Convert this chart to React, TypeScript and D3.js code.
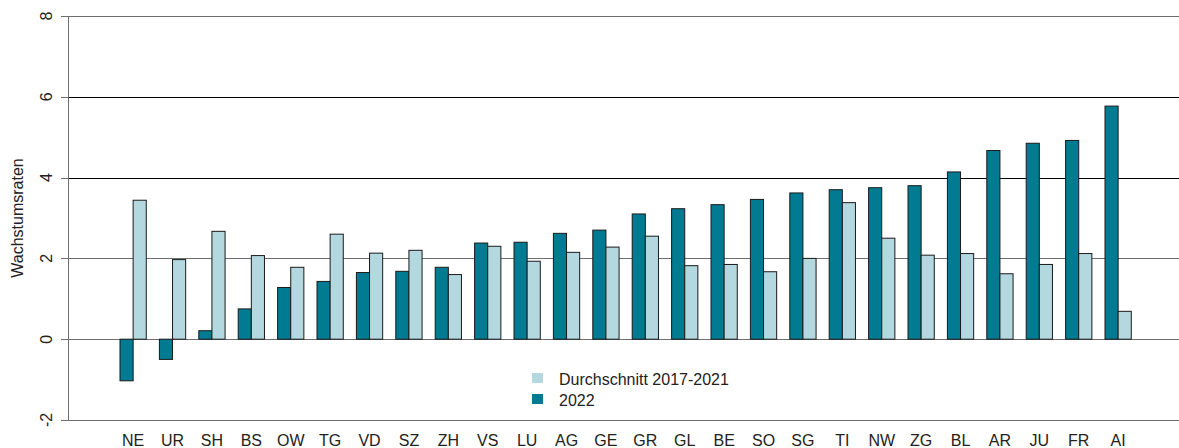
import React, { useEffect, useRef } from 'react';
import * as d3 from 'd3';

// Kantone, sortiert nach Wachstum 2022
const cantons = ['NE', 'UR', 'SH', 'BS', 'OW', 'TG', 'VD', 'SZ', 'ZH', 'VS', 'LU', 'AG', 'GE', 'GR', 'GL', 'BE', 'SO', 'SG', 'TI', 'NW', 'ZG', 'BL', 'AR', 'JU', 'FR', 'AI'];
const growth2022 = [-1.03, -0.5, 0.21, 0.75, 1.28, 1.43, 1.65, 1.68, 1.78, 2.38, 2.4, 2.62, 2.7, 3.1, 3.23, 3.33, 3.46, 3.62, 3.7, 3.75, 3.8, 4.14, 4.67, 4.85, 4.92, 5.77];
const avg2017_2021 = [3.44, 1.97, 2.67, 2.07, 1.78, 2.6, 2.13, 2.2, 1.6, 2.3, 1.93, 2.15, 2.28, 2.55, 1.82, 1.85, 1.67, 2.0, 3.38, 2.5, 2.08, 2.12, 1.62, 1.85, 2.12, 0.69];
const yTicks = [-2, 0, 2, 4, 6, 8];

const darkColor = '#007b91';
const lightColor = '#b4d8e0';

const App: React.FC = () => {
  const svgRef = useRef<SVGSVGElement>(null);

  useEffect(() => {
    const svg = d3.select(svgRef.current);
    svg.selectAll('*').remove();

    const W = 1179, H = 448;
    const axisX = 68;

    const y = d3.scaleLinear().domain([-2, 8]).range([420, 16]);
    const step = 39.4;
    const x = d3.scaleBand<string>()
      .domain(cantons)
      .range([120 - step / 6, 120 - step / 6 + cantons.length * step])
      .paddingInner(1 / 3)
      .paddingOuter(1 / 6);
    const inner = d3.scaleBand<string>().domain(['2022', 'avg']).range([0, x.bandwidth()]);

    svg.attr('width', W).attr('height', H).style('font-family', '"Liberation Sans", Arial, sans-serif');

    // Gitterlinien
    const lineColor = (t: number) => (t === 4 || t === 6 ? '#000' : '#6e6e6e');
    svg.append('g').selectAll('line').data(yTicks).join('line')
      .attr('x1', axisX).attr('x2', W)
      .attr('y1', d => Math.round(y(d)) + 0.5).attr('y2', d => Math.round(y(d)) + 0.5)
      .attr('stroke', d => lineColor(d)).attr('stroke-width', 1);

    // Balken
    const groups = svg.append('g').selectAll('g').data(cantons).join('g')
      .attr('transform', d => `translate(${x(d)},0)`);

    groups.append('rect')
      .attr('x', inner('2022')!)
      .attr('width', inner.bandwidth())
      .attr('y', (_, i) => Math.min(y(growth2022[i]), y(0)))
      .attr('height', (_, i) => Math.abs(y(growth2022[i]) - y(0)))
      .attr('fill', darkColor).attr('stroke', '#1a1a1a').attr('stroke-width', 1);

    groups.append('rect')
      .attr('x', inner('avg')!)
      .attr('width', inner.bandwidth())
      .attr('y', (_, i) => Math.min(y(avg2017_2021[i]), y(0)))
      .attr('height', (_, i) => Math.abs(y(avg2017_2021[i]) - y(0)))
      .attr('fill', lightColor).attr('stroke', '#1a1a1a').attr('stroke-width', 1);

    // Y-Achse
    svg.append('line')
      .attr('x1', axisX + 0.5).attr('x2', axisX + 0.5)
      .attr('y1', y(8)).attr('y2', y(-2))
      .attr('stroke', '#6e6e6e');
    svg.append('g').selectAll('line').data(yTicks).join('line')
      .attr('x1', 61).attr('x2', axisX)
      .attr('y1', d => Math.round(y(d)) + 0.5).attr('y2', d => Math.round(y(d)) + 0.5)
      .attr('stroke', '#6e6e6e');
    svg.append('g').selectAll('text').data(yTicks).join('text')
      .attr('transform', d => `translate(52,${y(d)}) rotate(-90)`)
      .attr('text-anchor', 'middle')
      .attr('font-size', 16).attr('fill', '#222')
      .text(d => d);

    svg.append('text')
      .attr('transform', `translate(23,${(y(8) + y(-2)) / 2}) rotate(-90)`)
      .attr('text-anchor', 'middle')
      .attr('font-size', 16).attr('fill', '#222')
      .text('Wachstumsraten');

    // X-Beschriftung
    svg.append('g').selectAll('text').data(cantons).join('text')
      .attr('x', d => x(d)! + x.bandwidth() / 2)
      .attr('y', 446)
      .attr('text-anchor', 'middle')
      .attr('font-size', 16).attr('fill', '#222')
      .text(d => d);

    // Legende
    const legend = svg.append('g');
    const items = [
      { label: 'Durchschnitt 2017-2021', color: lightColor },
      { label: '2022', color: darkColor },
    ];
    items.forEach((it, i) => {
      legend.append('rect')
        .attr('x', 532).attr('y', 373 + i * 21)
        .attr('width', 11).attr('height', 10)
        .attr('fill', it.color);
      legend.append('text')
        .attr('x', 559).attr('y', 385 + i * 21)
        .attr('font-size', 16).attr('fill', '#222')
        .text(it.label);
    });
  }, []);

  return <svg ref={svgRef} style={{ position: 'absolute', left: 0, top: 0 }}></svg>;
};

export default App;
